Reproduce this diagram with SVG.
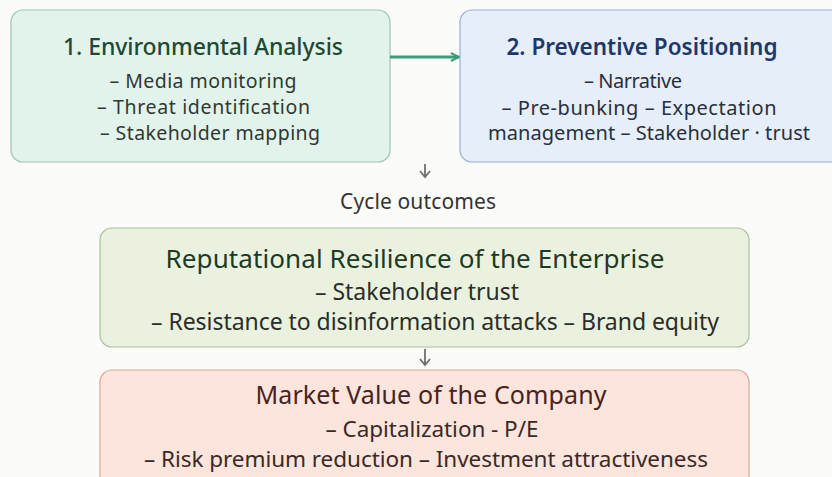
<svg xmlns="http://www.w3.org/2000/svg" width="832" height="477" viewBox="0 0 832 477">
<defs>
<style>
text{font-family:"Noto Sans","Open Sans",sans-serif;text-anchor:middle}
.g1{fill:#1f4a31;font-weight:500}
.b1{fill:#2f3833}
.bl{fill:#1e3868;font-weight:600}
.b2{fill:#28303e}
.g3{fill:#1d3a24}
.b3{fill:#2b2d29}
.r{fill:#4a2320}
.b4{fill:#3b2926}
</style>
<marker id="ah" viewBox="0 0 10 10" refX="9" refY="5" markerWidth="10" markerHeight="10" markerUnits="userSpaceOnUse" orient="auto">
<path d="M1,1 L9,5 L1,9" fill="none" stroke="#3d9a7a" stroke-width="2"/>
</marker>
</defs>
<rect width="832" height="477" fill="#fbfbfa"/>
<g id="n1">
<rect x="11" y="10" width="379" height="152" rx="12" fill="#e2f3ec" stroke="#9cc7b3" stroke-width="1.2"/>
<text class="g1" x="203" y="55" font-size="23" textLength="280">1. Environmental Analysis</text>
<text class="b1" x="203" y="88" font-size="19.5" textLength="187">– Media monitoring</text>
<text class="b1" x="203.5" y="114" font-size="19.5" textLength="213">– Threat identification</text>
<text class="b1" x="210" y="140" font-size="19.5" textLength="220">– Stakeholder mapping</text>
</g>
<g id="n2">
<rect x="460" y="10" width="390" height="152" rx="12" fill="#e6eef9" stroke="#98b2d8" stroke-width="1.2"/>
<text class="bl" x="642" y="55" font-size="22.5" textLength="271">2. Preventive Positioning</text>
<text class="b2" x="633" y="88" font-size="20" textLength="98">– Narrative</text>
<text class="b2" x="639" y="115" font-size="20" textLength="275">– Pre-bunking – Expectation</text>
<text class="b2" x="649" y="140" font-size="20" textLength="322">management – Stakeholder · trust</text>
</g>
<g id="n3">
<rect x="100" y="228" width="649" height="119" rx="12" fill="#eaf2df" stroke="#a8c29a" stroke-width="1.2"/>
<text class="g3" x="415" y="268" font-size="26" textLength="499">Reputational Resilience of the Enterprise</text>
<text class="b3" x="417" y="300" font-size="23" textLength="204">– Stakeholder trust</text>
<text class="b3" x="435" y="330" font-size="23" textLength="568">– Resistance to disinformation attacks – Brand equity</text>
</g>
<g id="n4">
<rect x="100" y="370" width="649" height="120" rx="12" fill="#fbe5dd" stroke="#dfa894" stroke-width="1.2"/>
<text class="r" x="431" y="404" font-size="25" textLength="351">Market Value of the Company</text>
<text class="b4" x="432" y="437" font-size="22.5" textLength="213">– Capitalization - P/E</text>
<text class="b4" x="426" y="467" font-size="22.5" textLength="564">– Risk premium reduction – Investment attractiveness</text>
</g>
<g id="connectors" fill="none">
<line x1="390" y1="57" x2="459" y2="57" stroke="#3d9a7a" stroke-width="3" marker-end="url(#ah)"/>
<path d="M425,164 V177 M420,171 L425,177 L430,171" stroke="#6f6f6f" stroke-width="1.8"/>
<path d="M425,349 V365 M420,359 L425,365 L430,359" stroke="#6f6f6f" stroke-width="1.8"/>
<text x="418" y="209" font-size="21" fill="#333" stroke="none" textLength="156">Cycle outcomes</text>
</g>
</svg>
